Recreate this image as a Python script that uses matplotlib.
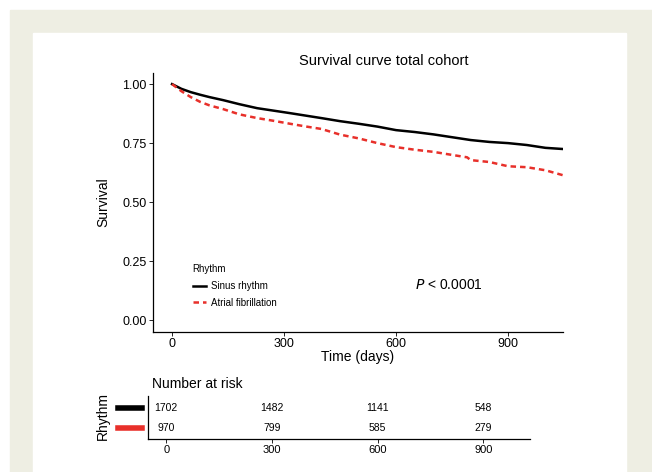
import matplotlib
matplotlib.use("Agg")
import matplotlib.pyplot as plt
from matplotlib.patches import Rectangle

plt.rcParams['font.family'] = ['Liberation Sans', 'DejaVu Sans']

# survival estimates (days, proportion surviving)
sinus_t = [0, 25, 50, 75, 100, 137, 180, 228, 270, 316, 360, 400, 450, 500,
           550, 600, 650, 700, 750, 800, 850, 900, 950, 1000, 1047]
sinus_s = [1.0, 0.98, 0.966, 0.955, 0.945, 0.932, 0.915, 0.898, 0.888, 0.877,
           0.866, 0.856, 0.843, 0.832, 0.82, 0.805, 0.797, 0.787, 0.775, 0.763,
           0.755, 0.75, 0.742, 0.73, 0.725]
af_t = [0, 25, 50, 75, 100, 137, 180, 228, 270, 316, 360, 400, 450, 500,
        550, 600, 650, 700, 750, 790, 800, 850, 900, 950, 1000, 1047]
af_s = [1.0, 0.97, 0.945, 0.925, 0.91, 0.894, 0.872, 0.856, 0.845, 0.832,
        0.82, 0.81, 0.786, 0.77, 0.75, 0.733, 0.722, 0.713, 0.70, 0.69, 0.678,
        0.67, 0.652, 0.648, 0.635, 0.614]

risk_times = [0, 300, 600, 900]
risk_sinus = [1702, 1482, 1141, 548]
risk_af = [970, 799, 585, 279]
groups = ['Sinus rhythm', 'Atrial fibrillation']
colors = ['black', '#e8302a']

W, H = 652, 472
fig = plt.figure(figsize=(W / 100, H / 100), dpi=100)

def box(x0, y0, x1, y1):
    # pixel box (top-left origin) -> figure fraction rect
    return [x0 / W, 1 - y1 / H, (x1 - x0) / W, (y1 - y0) / H]

# beige frame with white panel
fig.patches.append(Rectangle((10 / W, 0), 1, 1 - 10 / H, transform=fig.transFigure,
                             color='#eeeee3', zorder=-20))
fig.patches.append(Rectangle((33 / W, 0), (626 - 33) / W, 1 - 33 / H,
                             transform=fig.transFigure, color='white', zorder=-10))

# main survival plot
ax = fig.add_axes(box(153, 73, 563, 332))
ax.set_facecolor('none')
ax.plot(sinus_t, sinus_s, color=colors[0], lw=1.8, label=groups[0])
ax.plot(af_t, af_s, color=colors[1], lw=1.8, ls=(0, (2.2, 1.6)), label=groups[1])
ax.set_xlim(-51, 1047)
ax.set_ylim(-0.05, 1.047)
ax.set_xticks(risk_times)
ax.set_yticks([0, 0.25, 0.5, 0.75, 1.0])
ax.set_yticklabels(['0.00', '0.25', '0.50', '0.75', '1.00'])
ax.tick_params(labelsize=9, length=3, width=0.6, pad=1.5)
for s in ['top', 'right']:
    ax.spines[s].set_visible(False)
for s in ['left', 'bottom']:
    ax.spines[s].set_linewidth(0.9)
ax.set_xlabel('Time (days)', fontsize=10, labelpad=0)
ax.set_ylabel('Survival', fontsize=10, labelpad=9)
leg = ax.legend(title='Rhythm', loc='lower left', bbox_to_anchor=(0.075, 0.06),
                frameon=False, fontsize=7, title_fontsize=7, handlelength=1.4,
                handletextpad=0.5, labelspacing=0.7)
leg._legend_box.align = 'left'
ax.text(0.64, 0.18, r'$P$ < 0.0001', transform=ax.transAxes, fontsize=10,
        va='center')
fig.text(384 / W, 1 - 61 / H, 'Survival curve total cohort', ha='center',
         va='center', fontsize=10.5)

# number at risk table
tx = fig.add_axes(box(148, 396, 530, 439))
tx.set_facecolor('none')
tx.set_xlim(-52, 1032)
tx.set_ylim(0, 2)
for x, n1, n2 in zip(risk_times, risk_sinus, risk_af):
    tx.text(x, 1.45, str(n1), ha='center', va='center', fontsize=7.5)
    tx.text(x, 0.5, str(n2), ha='center', va='center', fontsize=7.5)
tx.set_xticks(risk_times)
tx.set_yticks([])
tx.tick_params(labelsize=8, length=3, width=0.6, pad=1.5)
for s in ['top', 'right']:
    tx.spines[s].set_visible(False)
tx.spines['left'].set_linewidth(0.9)
tx.spines['bottom'].set_linewidth(0.9)
fig.text(152 / W, 1 - 384 / H, 'Number at risk', ha='left', va='center', fontsize=10)
fig.text(103 / W, 1 - 416 / H, 'Rhythm', ha='center', va='center', rotation=90,
         fontsize=10)
for yy, c in zip([408, 428], colors):
    fig.lines.append(plt.Line2D([118 / W, 142 / W], [1 - yy / H, 1 - yy / H],
                                transform=fig.transFigure, color=c, lw=4))

fig.savefig('out.png', dpi=100)
